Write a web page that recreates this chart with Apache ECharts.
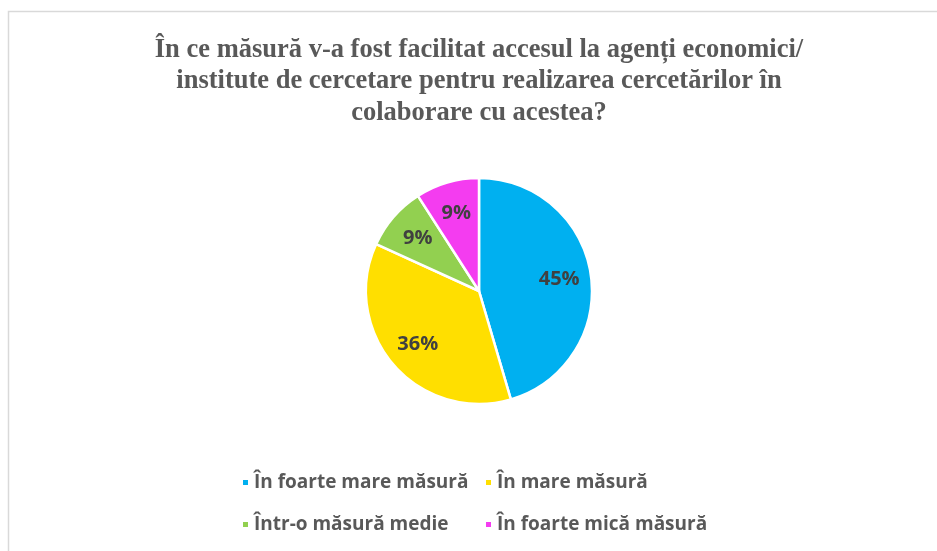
<!DOCTYPE html>
<html>
<head>
<meta charset="utf-8">
<script src="https://cdn.jsdelivr.net/npm/echarts@6/dist/echarts.min.js"></script>
<style>
    html, body { margin: 0; padding: 0; background: #fff; }
    #chart { width: 937px; height: 551px; }
</style>
</head>
<body>
<div id="chart"></div>
<script>
// date (numar de raspunsuri)
var categorii = ['În foarte mare măsură', 'În mare măsură', 'Într-o măsură medie', 'În foarte mică măsură'];
var valori = [5, 4, 1, 1];
var culori = ['#00b0f0', '#ffdf00', '#92d050', '#f43cf0'];

var titlu = 'În ce măsură v-a fost facilitat accesul la agenți economici/\ninstitute de cercetare pentru realizarea cercetărilor în\ncolaborare cu acestea?';

var chart = echarts.init(document.getElementById('chart'));

var dateSerie = categorii.map(function (c, i) {
    return { name: c, value: valori[i], itemStyle: { color: culori[i] } };
});

var stilLegenda = { fontFamily: 'Open Sans', fontSize: 19, fontWeight: 'bold', color: '#595959' };

var option = {
    animation: false,
    title: {
        text: titlu,
        left: 474,
        top: 29,
        textAlign: 'center',
        textStyle: {
            fontFamily: 'Liberation Serif',
            fontSize: 26.5,
            fontWeight: 'bold',
            color: '#595959',
            lineHeight: 31.5
        }
    },
    graphic: [{
        type: 'rect',
        shape: { x: 8.5, y: 11.5, width: 1200, height: 1200 },
        style: { fill: 'none', stroke: '#d9d9d9', lineWidth: 1.5 },
        silent: true
    }],
    legend: [{
        orient: 'vertical',
        left: 236,
        top: 468,
        data: [categorii[0], categorii[2]],
        icon: 'rect',
        itemWidth: 7,
        itemHeight: 7,
        itemGap: 23,
        textStyle: stilLegenda
    }, {
        orient: 'vertical',
        left: 479,
        top: 468,
        data: [categorii[1], categorii[3]],
        icon: 'rect',
        itemWidth: 7,
        itemHeight: 7,
        itemGap: 23,
        textStyle: stilLegenda
    }],
    series: [{
        type: 'pie',
        center: [479, 291],
        radius: [0, 113],
        startAngle: 90,
        clockwise: true,
        data: dateSerie,
        label: { show: false },
        labelLine: { show: false },
        itemStyle: { borderColor: '#fff', borderWidth: 2.5 },
        emphasis: { disabled: true }
    }, {
        // serie transparenta doar pentru pozitia etichetelor
        type: 'pie',
        center: [479, 291],
        radius: [43, 113],
        startAngle: 90,
        clockwise: true,
        silent: true,
        data: dateSerie.map(function (d) {
            return { name: d.name, value: d.value, itemStyle: { color: 'transparent' } };
        }),
        label: {
            show: true,
            position: 'inside',
            formatter: function (p) { return Math.round(p.percent) + '%'; },
            fontFamily: 'Open Sans',
            fontSize: 20,
            fontWeight: 'bold',
            color: '#404040'
        },
        labelLine: { show: false },
        emphasis: { disabled: true }
    }]
};
chart.setOption(option);
</script>
</body>
</html>
